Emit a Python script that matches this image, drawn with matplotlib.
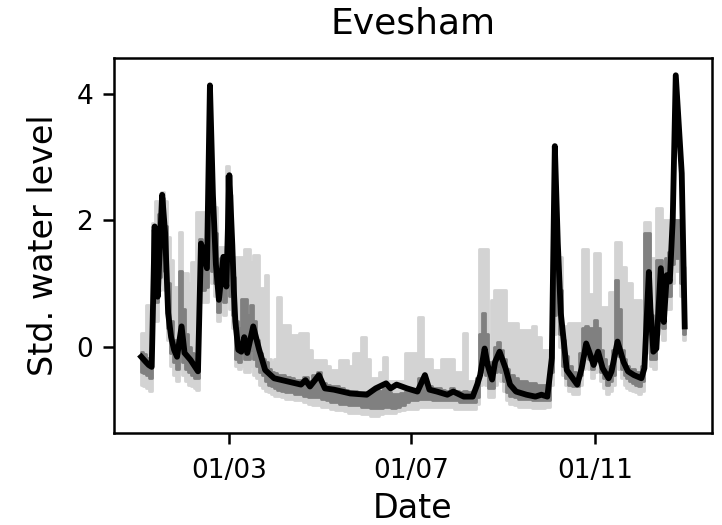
import numpy as np
import matplotlib
matplotlib.use('Agg')
import matplotlib.pyplot as plt
import matplotlib.dates as mdates

# observed (standardised) level, day of year 2018 -> value
obs_day = [0, 3, 5, 7, 9, 10, 11, 14, 16, 18, 20, 22, 24, 27, 29, 33, 38, 40, 44, 46,
           48, 50, 52, 55, 57, 59, 61, 62, 63, 65, 67, 69, 71, 75, 79, 83, 89, 98, 107, 110,
           113, 119, 123, 129, 140, 151, 157, 164, 167, 171, 178, 185, 190, 193, 198, 205, 209, 216, 222, 225,
           227, 230, 232, 235, 237, 240, 244, 247, 251, 258, 264, 268, 272, 275, 277, 279, 281, 285, 292, 295,
           298, 300, 303, 306, 309, 313, 315, 319, 323, 326, 330, 335, 337, 340, 341, 343, 345, 348, 350, 352,
           354, 356, 358, 362, 364]
obs_val = [-0.16, -0.24, -0.29, -0.32, 1.90, 1.30, 0.79, 2.40, 1.79, 0.53, 0.15, -0.05, -0.16, 0.32, -0.10, -0.21, -0.39, 1.63, 1.24, 4.13,
           2.40, 1.30, 0.74, 1.42, 0.95, 2.71, 1.60, 0.90, 0.40, -0.05, -0.08, 0.15, -0.10, 0.32, -0.05, -0.37, -0.50, -0.55, -0.60, -0.53,
           -0.63, -0.45, -0.66, -0.68, -0.74, -0.76, -0.66, -0.58, -0.66, -0.60, -0.66, -0.71, -0.45, -0.68, -0.71, -0.76, -0.71, -0.79, -0.79, -0.60,
           -0.45, -0.03, -0.29, -0.52, -0.24, -0.08, -0.34, -0.60, -0.71, -0.76, -0.79, -0.76, -0.79, -0.18, 3.17, 1.63, 0.53, -0.37, -0.60, -0.34,
           0.05, -0.08, -0.29, -0.08, -0.34, -0.50, -0.39, 0.08, -0.24, -0.39, -0.45, -0.50, -0.34, 1.18, 0.61, -0.08, -0.03, 1.24, 0.39, 1.13,
           1.03, 2.03, 4.29, 2.74, 0.32]

# simulated ranges (outer = light, inner = dark)
band_day = [0, 2, 4, 6, 8, 10, 12, 14, 16, 18, 20, 22, 24, 26, 28, 30, 32, 34, 36, 38,
            40, 42, 44, 46, 48, 50, 52, 54, 56, 58, 60, 62, 64, 66, 68, 70, 72, 74, 76, 78,
            80, 82, 84, 86, 88, 90, 92, 95, 98, 101, 104, 107, 110, 113, 116, 119, 122, 125, 128, 131,
            134, 137, 140, 143, 146, 149, 152, 155, 158, 161, 163, 166, 169, 172, 175, 178, 181, 184, 187, 190,
            193, 196, 199, 202, 205, 208, 211, 214, 217, 220, 223, 225, 227, 229, 231, 233, 235, 237, 239, 241,
            243, 245, 248, 251, 254, 257, 260, 263, 266, 269, 272, 275, 277, 279, 281, 283, 285, 287, 290, 292,
            294, 296, 298, 300, 302, 304, 306, 308, 310, 312, 314, 316, 318, 320, 322, 324, 326, 328, 330, 332,
            334, 336, 338, 340, 342, 344, 346, 348, 350, 352, 354, 356, 358, 360, 362, 364]
outer_lo = [-0.60, -0.62, -0.66, -0.70, 0.60, 0.40, 0.90, 1.40, 0.90, 0.10, -0.30, -0.45, -0.55, -0.35, -0.45, -0.55, -0.60, -0.62, -0.65, -0.68,
            0.90, 0.70, 0.70, 1.20, 1.00, 0.80, 0.40, 0.60, 0.50, 0.70, 0.60, 0.30, -0.30, -0.35, -0.30, -0.40, -0.40, -0.30, -0.45, -0.50,
            -0.60, -0.65, -0.70, -0.72, -0.75, -0.78, -0.78, -0.80, -0.82, -0.82, -0.85, -0.85, -0.88, -0.90, -0.92, -0.92, -0.95, -0.95, -0.98, -1.00,
            -1.00, -1.02, -1.05, -1.05, -1.05, -1.07, -1.07, -1.09, -1.09, -1.07, -1.05, -1.05, -1.05, -1.02, -1.00, -0.98, -0.98, -0.98, -0.95, -0.95,
            -0.95, -0.95, -0.95, -0.95, -0.95, -0.95, -0.98, -0.98, -0.98, -0.98, -0.98, -0.90, -0.60, -0.40, -0.60, -0.80, -0.80, -0.60, -0.50, -0.55,
            -0.70, -0.85, -0.90, -0.92, -0.95, -0.95, -0.95, -0.97, -0.97, -0.97, -0.95, -0.60, 0.20, 0.40, 0.00, -0.45, -0.60, -0.70, -0.75, -0.75,
            -0.60, -0.35, -0.25, -0.35, -0.50, -0.40, -0.35, -0.55, -0.65, -0.75, -0.70, -0.60, -0.30, -0.35, -0.50, -0.60, -0.65, -0.68, -0.70, -0.72,
            -0.75, -0.70, -0.10, 0.60, -0.30, -0.35, 0.20, 0.40, 0.10, 0.60, 0.60, 1.00, 1.20, 1.20, 0.80, 0.10]
outer_hi = [0.22, 0.22, 0.66, 0.00, 1.95, 2.30, 2.30, 2.45, 2.30, 1.74, 1.37, 0.95, 0.95, 1.82, 1.16, 1.16, 1.00, 1.34, 1.34, 2.13,
            2.13, 2.13, 2.13, 2.20, 2.21, 2.21, 1.58, 1.58, 1.58, 2.85, 2.40, 1.37, 1.42, 1.42, 1.42, 1.55, 1.55, 1.34, 1.45, 1.45,
            0.92, 0.92, 1.13, -0.20, -0.25, -0.20, 0.79, 0.34, 0.34, 0.18, 0.18, 0.22, 0.22, -0.05, -0.21, -0.21, -0.21, -0.30, -0.37, -0.37,
            -0.21, -0.21, -0.30, -0.10, -0.10, 0.16, -0.20, -0.50, -0.50, -0.40, -0.16, -0.55, -0.55, -0.55, -0.55, -0.10, -0.10, -0.10, 0.47, -0.20,
            -0.20, -0.37, -0.37, -0.20, -0.20, -0.20, -0.40, -0.40, 0.22, -0.55, -0.55, -0.50, 1.55, 1.55, 1.55, -0.10, 0.74, 0.90, 0.90, 0.90,
            0.90, 0.37, 0.37, 0.37, 0.26, 0.26, 0.26, 0.33, 0.16, -0.05, -0.05, 0.10, 1.20, 1.42, 1.42, 0.32, 0.32, 0.37, 0.37, 0.37,
            0.37, 1.55, 1.55, 0.84, 0.84, 1.48, 1.48, 0.63, 0.63, 0.63, 0.87, 0.87, 1.66, 1.66, 1.26, 1.26, 1.00, 1.00, 0.74, 0.74,
            0.74, 0.50, 1.97, 1.97, 1.40, 1.40, 2.19, 2.19, 2.00, 2.00, 2.00, 2.00, 2.00, 1.90, 1.50, 1.26]
inner_lo = [-0.40, -0.42, -0.45, -0.50, 0.90, 0.70, 1.10, 1.70, 1.20, 0.30, -0.10, -0.25, -0.35, -0.10, -0.25, -0.35, -0.40, -0.45, -0.50, -0.50,
            1.10, 0.90, 0.95, 1.40, 1.20, 1.00, 0.55, 0.80, 0.70, 1.00, 0.80, 0.50, -0.20, -0.25, -0.10, -0.20, -0.20, -0.05, -0.20, -0.30,
            -0.40, -0.45, -0.55, -0.60, -0.62, -0.65, -0.68, -0.70, -0.72, -0.72, -0.75, -0.75, -0.78, -0.80, -0.80, -0.80, -0.82, -0.85, -0.88, -0.88,
            -0.90, -0.90, -0.92, -0.92, -0.93, -0.95, -0.95, -0.97, -0.97, -0.97, -0.95, -0.95, -0.97, -0.95, -0.92, -0.88, -0.85, -0.85, -0.82, -0.82,
            -0.82, -0.85, -0.85, -0.85, -0.85, -0.85, -0.85, -0.88, -0.88, -0.88, -0.88, -0.80, -0.40, -0.20, -0.45, -0.65, -0.65, -0.40, -0.30, -0.40,
            -0.55, -0.72, -0.78, -0.80, -0.82, -0.83, -0.83, -0.85, -0.85, -0.85, -0.85, -0.40, 0.50, 0.70, 0.20, -0.30, -0.50, -0.60, -0.62, -0.62,
            -0.45, -0.15, -0.05, -0.20, -0.35, -0.20, -0.20, -0.40, -0.50, -0.60, -0.55, -0.45, -0.10, -0.15, -0.35, -0.45, -0.50, -0.55, -0.58, -0.60,
            -0.62, -0.55, 0.20, 0.90, -0.20, -0.20, 0.50, 0.70, 0.30, 0.80, 0.80, 1.30, 1.40, 1.40, 1.00, 0.20]
inner_hi = [-0.08, -0.12, -0.18, -0.22, 1.85, 1.60, 2.10, 2.35, 1.90, 1.00, 0.40, 0.10, 0.00, 1.20, 0.60, 0.20, 0.00, -0.10, -0.20, -0.20,
            1.70, 1.60, 1.50, 2.00, 2.10, 1.80, 1.20, 1.40, 1.30, 2.70, 1.80, 1.10, 0.40, 0.30, 0.76, 0.76, 0.50, 0.66, 0.40, 0.10,
            -0.10, -0.20, -0.25, -0.35, -0.40, -0.42, -0.45, -0.45, -0.48, -0.50, -0.52, -0.52, -0.48, -0.55, -0.45, -0.40, -0.58, -0.60, -0.62, -0.62,
            -0.65, -0.68, -0.70, -0.70, -0.72, -0.72, -0.72, -0.72, -0.68, -0.70, -0.65, -0.72, -0.75, -0.75, -0.74, -0.70, -0.70, -0.72, -0.50, -0.55,
            -0.62, -0.65, -0.65, -0.68, -0.70, -0.65, -0.70, -0.72, -0.70, -0.72, -0.70, -0.50, 0.20, 0.53, 0.20, -0.25, -0.30, 0.00, 0.08, -0.05,
            -0.20, -0.35, -0.45, -0.50, -0.55, -0.55, -0.58, -0.58, -0.60, -0.60, -0.60, 0.00, 1.00, 1.30, 0.90, 0.10, -0.15, -0.30, -0.40, -0.42,
            -0.10, 0.30, 0.32, 0.30, 0.30, 0.42, 0.30, -0.05, -0.20, -0.35, -0.30, -0.05, 1.05, 0.60, -0.05, -0.20, -0.30, -0.35, -0.35, -0.40,
            -0.40, -0.30, 1.79, 1.79, 0.50, 0.40, 1.37, 1.37, 1.00, 1.40, 1.50, 1.95, 2.00, 2.00, 1.50, 0.80]

start = np.datetime64('2018-01-01')
obs_dates = start + np.array(obs_day)
band_dates = start + np.array(band_day)

fig = plt.figure(figsize=(7.22, 5.25), dpi=100)
ax = fig.add_subplot(111)
fig.subplots_adjust(left=0.158, right=0.986, top=0.889, bottom=0.176)

ax.fill_between(band_dates, outer_lo, outer_hi, step='mid', color='#d3d3d3', lw=2)
ax.fill_between(band_dates, inner_lo, inner_hi, step='mid', color='#808080', lw=2)
ax.plot(obs_dates, obs_val, color='black', lw=4.2)

ax.xaxis.set_major_locator(mdates.MonthLocator(bymonth=[3, 7, 11]))
ax.xaxis.set_major_formatter(mdates.DateFormatter('%d/%m'))
ax.set_yticks([0, 2, 4])

for s in ax.spines.values():
    s.set_linewidth(1.8)
ax.tick_params(axis='both', labelsize=19, length=8, width=1.8)
ax.tick_params(axis='x', pad=10)
ax.tick_params(axis='y', pad=7)

ax.set_title('Evesham', fontsize=26, pad=18)
ax.set_xlabel('Date', fontsize=24, labelpad=6)
ax.set_ylabel('Std. water level', fontsize=24, labelpad=12)

plt.savefig('out.png', dpi=100)
